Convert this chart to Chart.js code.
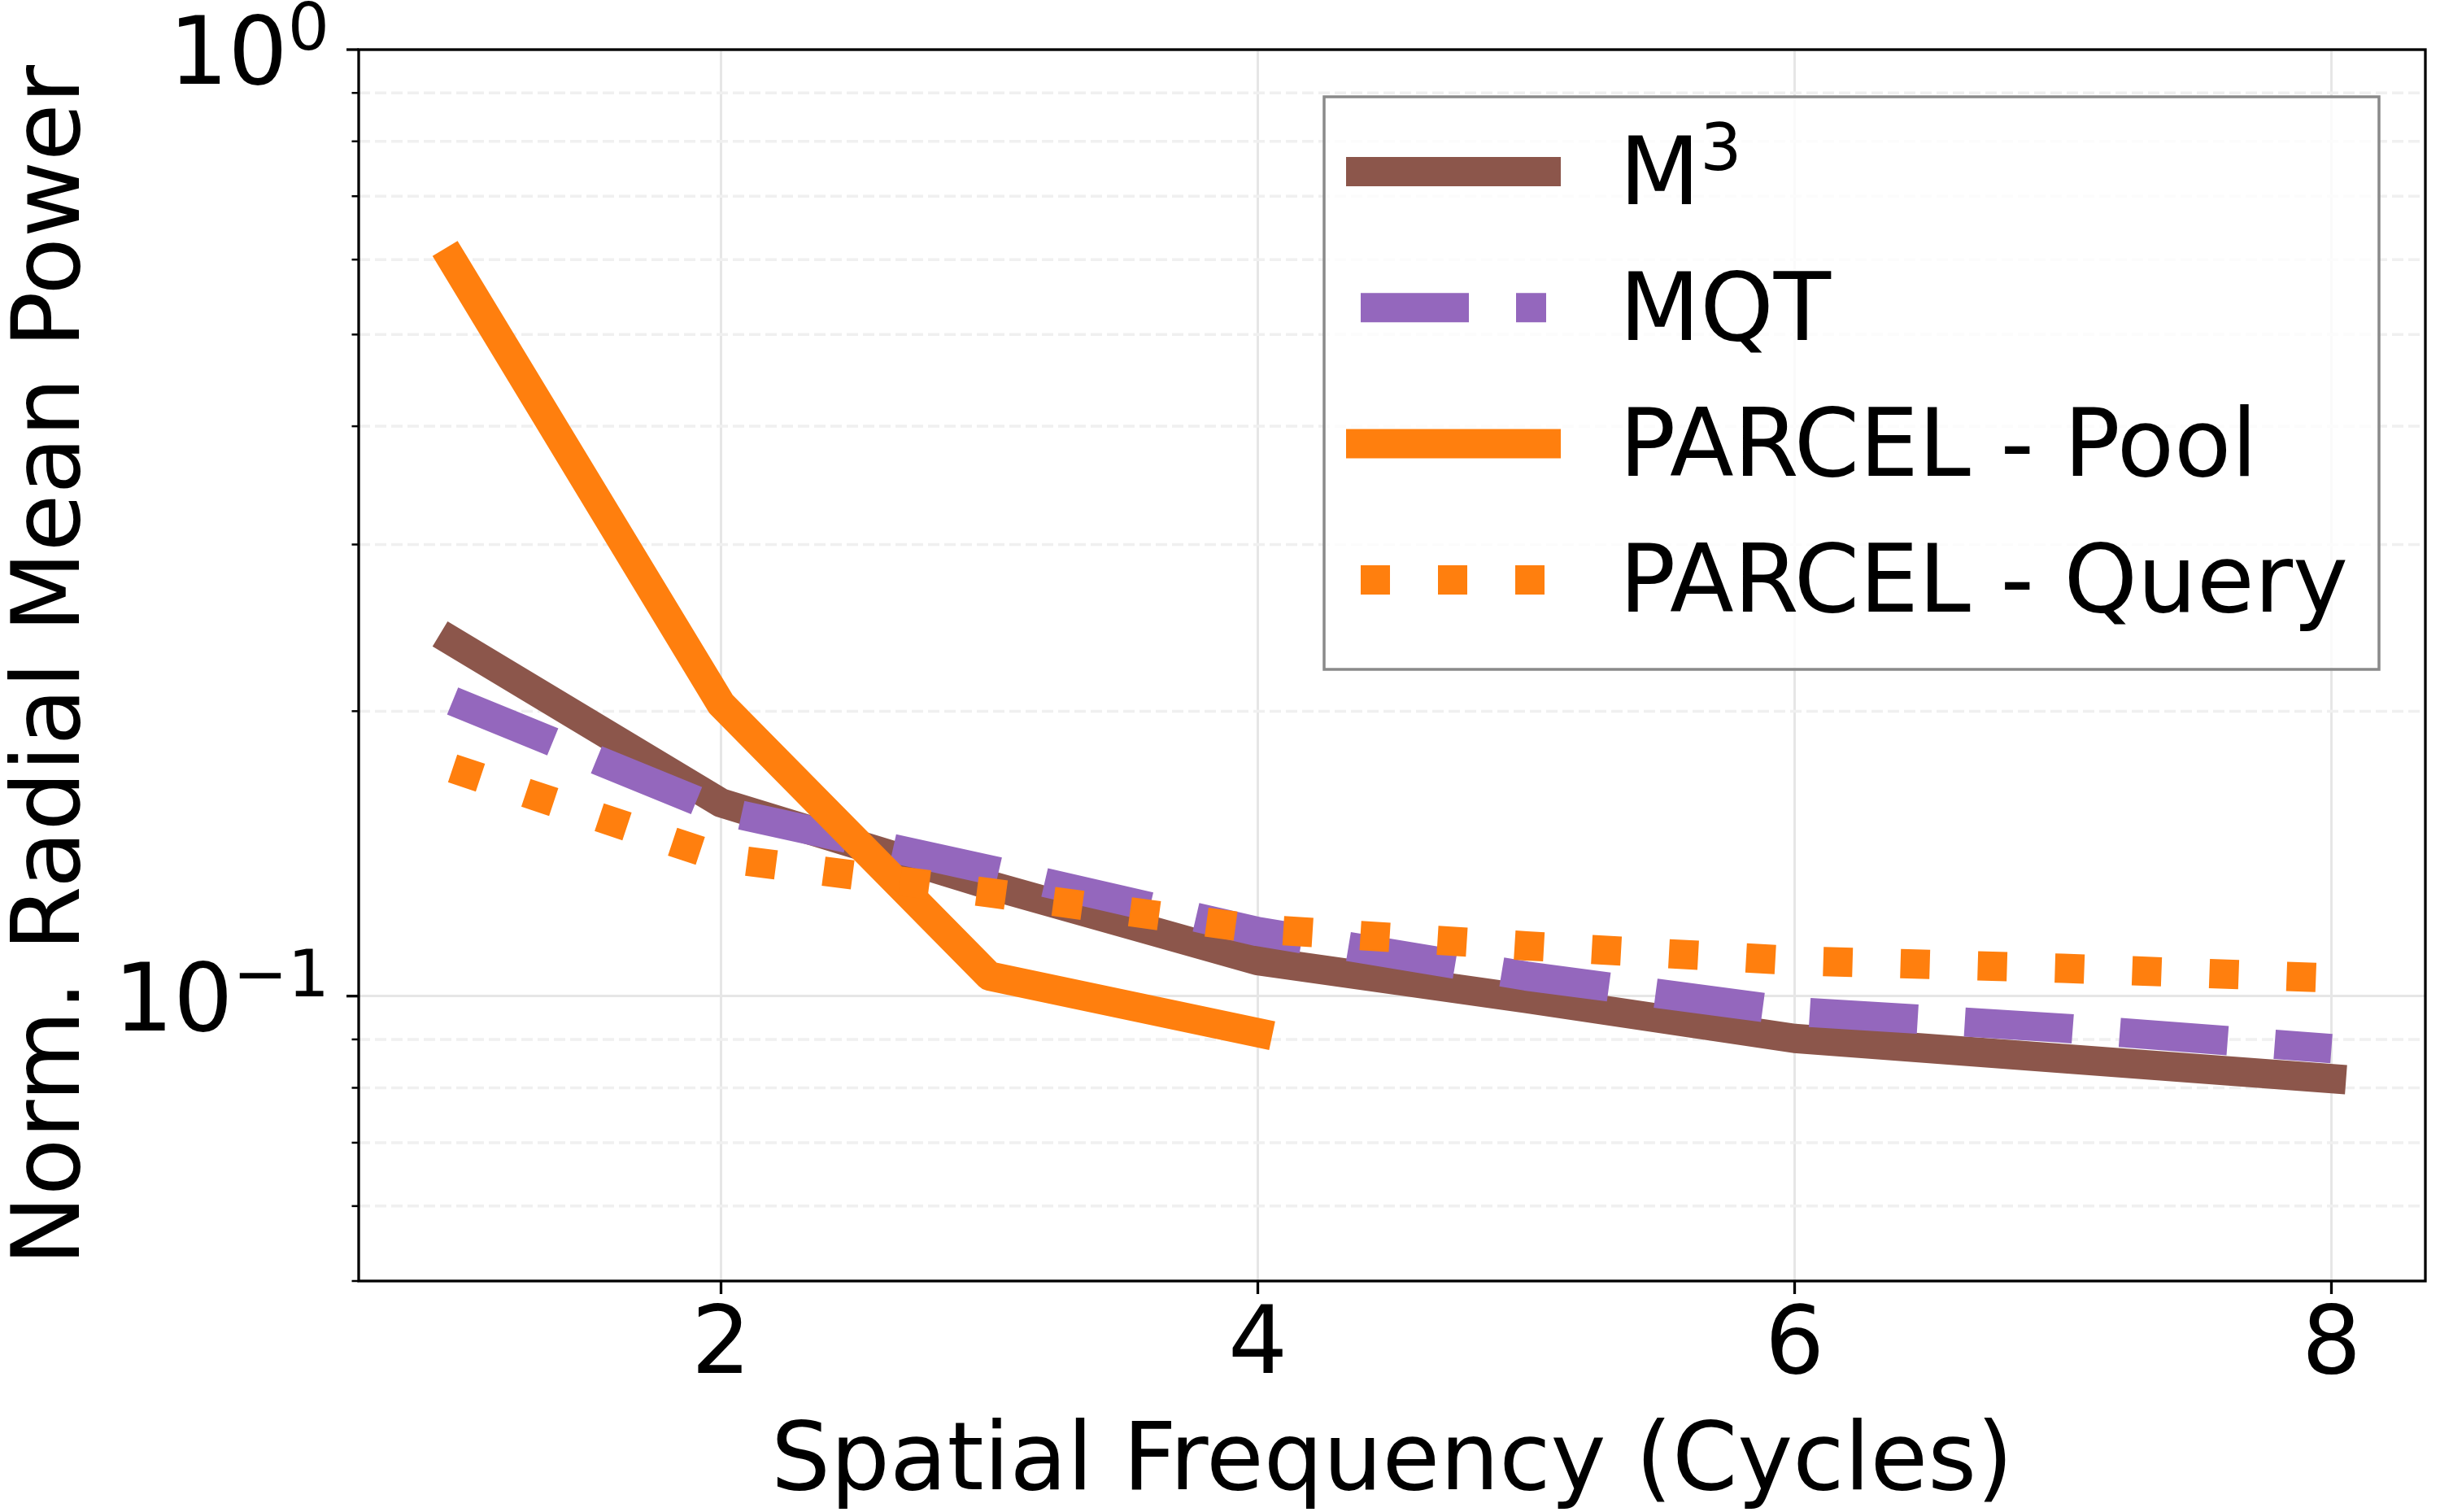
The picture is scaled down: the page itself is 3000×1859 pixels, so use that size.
<!DOCTYPE html>
<html>
<head>
<meta charset="utf-8">
<script src="https://cdn.jsdelivr.net/npm/chart.js@4.4.0/dist/chart.umd.min.js"></script>
<style>
  html, body { margin: 0; padding: 0; background: #fff; }
  #wrap { width: 3000px; height: 1859px; position: relative; }
</style>
</head>
<body>
<div id="wrap"><canvas id="powerChart"></canvas></div>
<script>
// values (log y axis)
const frequencies = [1, 2, 3, 4, 5, 6, 7, 8];
const poolFrequencies = [1, 2, 3, 4];
const m3Power = [0.237, 0.160, 0.131, 0.109, 0.0994, 0.0902, 0.0859, 0.0818];
const mqtPower = [0.205, 0.157, 0.136, 0.117, 0.105, 0.0963, 0.0925, 0.088];
const parcelPoolPower = [0.598, 0.2035, 0.105, 0.0915];
const parcelQueryPower = [0.174, 0.140, 0.1286, 0.1177, 0.113, 0.109, 0.107, 0.1045];
const seriesLabels = ['M³', 'MQT', 'PARCEL - Pool', 'PARCEL - Query'];

const xTickValues = [2, 4, 6, 8];
const yTickValues = [0.05, 0.06, 0.07, 0.08, 0.09, 0.1, 0.2, 0.3, 0.4, 0.5, 0.6, 0.7, 0.8, 0.9, 1];
const yMajorTicks = [0.1, 1];
const yMajorLabels = ['10⁻¹', '10⁰'];

const FONT = 'DejaVu Sans';
const FS = 115;
const SUP_FS = 80.5;
const SUP_RAISE = 42;

Chart.defaults.font.family = FONT;
Chart.defaults.color = '#000';

function toPoints(xs, ys) {
    return xs.map((x, i) => ({ x: x, y: ys[i] }));
}

// split "10⁻¹" -> base "10", sup "−1"
const supChars = { '⁰': '0', '¹': '1', '²': '2', '³': '3', '⁻': '\u2212' };
function splitSup(label) {
    let base = '', sup = '';
    for (const ch of label) {
        if (supChars[ch]) sup += supChars[ch];
        else base += ch;
    }
    return { base, sup };
}

function mathWidth(ctx, label) {
    const p = splitSup(label);
    ctx.font = FS + 'px "' + FONT + '"';
    let w = ctx.measureText(p.base).width;
    ctx.font = SUP_FS + 'px "' + FONT + '"';
    w += p.sup ? ctx.measureText(p.sup).width : 0;
    return w;
}

function drawMath(ctx, label, x, baseline) {
    const p = splitSup(label);
    ctx.textAlign = 'left';
    ctx.textBaseline = 'alphabetic';
    ctx.font = FS + 'px "' + FONT + '"';
    ctx.fillText(p.base, x, baseline);
    const bw = ctx.measureText(p.base).width;
    if (p.sup) {
        ctx.font = SUP_FS + 'px "' + FONT + '"';
        ctx.fillText(p.sup, x + bw, baseline - SUP_RAISE);
    }
}

// grid, spines, ticks and legend drawn matplotlib-style
const axesDecor = {
    id: 'axesDecor',
    beforeDatasetsDraw(chart) {
        const { ctx, chartArea: a, scales: { y } } = chart;
        ctx.save();
        ctx.strokeStyle = '#f0f0f0';
        ctx.lineWidth = 3.5;
        ctx.setLineDash([14, 6]);
        yTickValues.forEach(v => {
            if (yMajorTicks.includes(v) || v <= y.min) return;
            const py = y.getPixelForValue(v);
            ctx.beginPath();
            ctx.moveTo(a.left, py);
            ctx.lineTo(a.right, py);
            ctx.stroke();
        });
        ctx.restore();
    },
    afterDatasetsDraw(chart) {
        const { ctx, chartArea: a, scales: { x, y } } = chart;
        ctx.save();
        // spines
        ctx.strokeStyle = '#000';
        ctx.lineWidth = 3.3;
        ctx.setLineDash([]);
        ctx.strokeRect(a.left, a.top, a.right - a.left, a.bottom - a.top);

        // x ticks
        xTickValues.forEach(v => {
            const px = x.getPixelForValue(v);
            ctx.beginPath();
            ctx.moveTo(px, a.bottom);
            ctx.lineTo(px, a.bottom + 16);
            ctx.stroke();
        });
        // y ticks, major and minor
        yTickValues.forEach(v => {
            const py = y.getPixelForValue(v);
            const major = yMajorTicks.includes(v);
            ctx.lineWidth = major ? 3.3 : 2.5;
            ctx.beginPath();
            ctx.moveTo(a.left, py);
            ctx.lineTo(a.left - (major ? 15 : 8.5), py);
            ctx.stroke();
        });
        // y tick labels 10^n
        ctx.fillStyle = '#000';
        yMajorTicks.forEach((v, i) => {
            const py = y.getPixelForValue(v);
            const w = mathWidth(ctx, yMajorLabels[i]);
            drawMath(ctx, yMajorLabels[i], 405 - w, py + 42);
        });

        // legend
        const box = { left: 1628, top: 119, right: 2925, bottom: 823 };
        ctx.fillStyle = 'rgba(255,255,255,0.8)';
        ctx.fillRect(box.left, box.top, box.right - box.left, box.bottom - box.top);
        ctx.strokeStyle = '#8a8a8a';
        ctx.lineWidth = 3.5;
        ctx.strokeRect(box.left, box.top, box.right - box.left, box.bottom - box.top);

        chart.data.datasets.forEach((ds, i) => {
            const rowY = 211 + i * 167.3;
            ctx.strokeStyle = ds.borderColor;
            ctx.lineWidth = ds.borderWidth;
            ctx.lineCap = ds.borderCapStyle;
            ctx.setLineDash(ds.borderDash || []);
            ctx.beginPath();
            ctx.moveTo(1673, rowY);
            ctx.lineTo(1901, rowY);
            ctx.stroke();
            ctx.setLineDash([]);
            ctx.fillStyle = '#000';
            drawMath(ctx, ds.label, 1991, rowY + 39.5);
        });
        ctx.restore();
    }
};

const ctx = document.getElementById('powerChart').getContext('2d');
const powerChart = new Chart(ctx, {
    type: 'line',
    data: {
        datasets: [
            {
                label: seriesLabels[0],
                data: toPoints(frequencies, m3Power),
                borderColor: '#8c564b',
                borderWidth: 36,
                borderCapStyle: 'square',
                borderJoinStyle: 'round',
                order: 4
            },
            {
                label: seriesLabels[1],
                data: toPoints(frequencies, mqtPower),
                borderColor: '#9467bd',
                borderWidth: 36,
                borderDash: [133, 58],
                borderCapStyle: 'butt',
                borderJoinStyle: 'round',
                order: 3
            },
            {
                label: seriesLabels[2],
                data: toPoints(poolFrequencies, parcelPoolPower),
                borderColor: '#ff7f0e',
                borderWidth: 36,
                borderCapStyle: 'square',
                borderJoinStyle: 'round',
                order: 2
            },
            {
                label: seriesLabels[3],
                data: toPoints(frequencies, parcelQueryPower),
                borderColor: '#ff7f0e',
                borderWidth: 36,
                borderDash: [36, 59],
                borderCapStyle: 'butt',
                borderJoinStyle: 'round',
                order: 1
            }
        ]
    },
    options: {
        responsive: true,
        maintainAspectRatio: false,
        devicePixelRatio: 1,
        animation: false,
        layout: { padding: { left: 0, right: 18, top: 61, bottom: 0 } },
        elements: { point: { radius: 0 }, line: { tension: 0, fill: false } },
        plugins: {
            legend: { display: false },
            tooltip: { enabled: false }
        },
        scales: {
            x: {
                type: 'linear',
                min: 0.65,
                max: 8.35,
                afterBuildTicks: s => { s.ticks = xTickValues.map(v => ({ value: v })); },
                afterFit: s => { s.height = 284; },
                grid: { color: '#e6e6e6', lineWidth: 3, drawTicks: false },
                border: { display: false },
                ticks: {
                    font: { family: FONT, size: FS, lineHeight: 1 },
                    padding: 26,
                    maxRotation: 0,
                    autoSkip: false
                },
                title: {
                    display: true,
                    text: 'Spatial Frequency (Cycles)',
                    font: { family: FONT, size: FS, lineHeight: 1 },
                    padding: 0
                }
            },
            y: {
                type: 'logarithmic',
                min: 0.05,
                max: 1,
                afterBuildTicks: s => { s.ticks = yTickValues.map(v => ({ value: v })); },
                afterFit: s => { s.width = 441; },
                grid: {
                    color: c => yMajorTicks.includes(c.tick && c.tick.value) ? '#e6e6e6' : 'rgba(0,0,0,0)',
                    lineWidth: 3,
                    drawTicks: false
                },
                border: { display: false },
                ticks: { display: false },
                title: {
                    display: true,
                    text: 'Norm. Radial Mean Power',
                    font: { family: FONT, size: FS, lineHeight: 1 },
                    padding: { top: 10, bottom: 0 }
                }
            }
        }
    },
    plugins: [axesDecor]
});
</script>
</body>
</html>
